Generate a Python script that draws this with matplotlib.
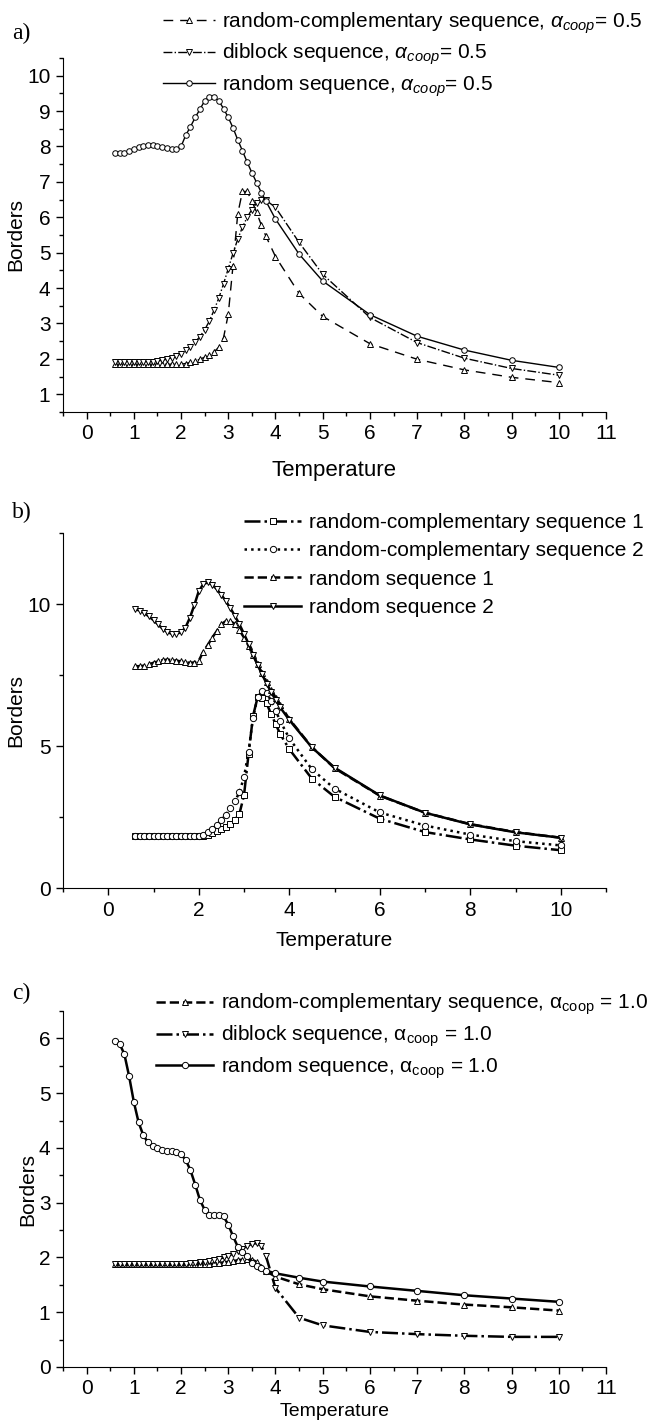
import matplotlib
matplotlib.use("Agg")
import matplotlib.pyplot as plt
from matplotlib.ticker import MultipleLocator

plt.rcParams['font.family'] = ['Liberation Sans', 'DejaVu Sans']
plt.rcParams['mathtext.fontset'] = 'custom'
plt.rcParams['mathtext.rm'] = 'Liberation Sans'
plt.rcParams['mathtext.it'] = 'Liberation Sans:italic'

# temperatures shared by all series
T = [0.6, 0.7, 0.8, 0.9, 1.0, 1.1, 1.2, 1.3, 1.4, 1.5, 1.6, 1.7, 1.8, 1.9, 2.0,
     2.1, 2.2, 2.3, 2.4, 2.5, 2.6, 2.7, 2.8, 2.9, 3.0, 3.1, 3.2, 3.3, 3.4, 3.5,
     3.6, 3.7, 3.8, 4.0, 4.5, 5, 6, 7, 8, 9, 10]

# panel a, alpha_coop = 0.5
a_rc = [1.85, 1.85, 1.85, 1.85, 1.85, 1.85, 1.85, 1.85, 1.85, 1.85, 1.85, 1.85, 1.85, 1.85, 1.85,
        1.87, 1.90, 1.94, 1.99, 2.05, 2.12, 2.20, 2.33, 2.60, 3.26, 4.63, 6.09, 6.73, 6.73, 6.46,
        6.14, 5.78, 5.46, 4.89, 3.85, 3.20, 2.43, 1.99, 1.69, 1.48, 1.33]
a_diblock = [1.92, 1.92, 1.92, 1.92, 1.92, 1.92, 1.92, 1.92, 1.92, 1.94, 1.96, 1.99, 2.03, 2.08, 2.15,
             2.24, 2.35, 2.48, 2.63, 2.82, 3.07, 3.38, 3.72, 4.12, 4.55, 4.98, 5.38, 5.72, 6.00, 6.22,
             6.40, 6.48, 6.48, 6.28, 5.29, 4.39, 3.17, 2.46, 2.02, 1.73, 1.54]
a_random = [7.81, 7.81, 7.83, 7.88, 7.93, 7.98, 8.02, 8.04, 8.03, 8.01, 7.98, 7.95, 7.93, 7.94, 8.00,
            8.32, 8.56, 8.82, 9.05, 9.29, 9.40, 9.40, 9.29, 9.07, 8.82, 8.53, 8.19, 7.88, 7.56, 7.26,
            6.98, 6.70, 6.45, 5.95, 4.96, 4.20, 3.25, 2.64, 2.25, 1.96, 1.76]

# panel b
b_rc1 = [1.82, 1.82, 1.82, 1.82, 1.82, 1.82, 1.82, 1.82, 1.82, 1.82, 1.82, 1.82, 1.82, 1.82, 1.82,
         1.84, 1.88, 1.93, 1.99, 2.06, 2.14, 2.25, 2.40, 2.62, 3.26, 4.71, 6.06, 6.71, 6.70, 6.50,
         6.12, 5.77, 5.42, 4.89, 3.85, 3.21, 2.44, 1.97, 1.71, 1.49, 1.33]
b_rc2 = [1.82, 1.82, 1.82, 1.82, 1.82, 1.82, 1.82, 1.82, 1.82, 1.82, 1.82, 1.82, 1.82, 1.82, 1.82,
         1.88, 1.96, 2.07, 2.22, 2.40, 2.58, 2.80, 3.05, 3.38, 3.90, 4.80, 6.00, 6.72, 6.93, 6.85,
         6.60, 6.25, 5.88, 5.27, 4.18, 3.50, 2.66, 2.20, 1.88, 1.65, 1.50]
b_r1 = [7.81, 7.81, 7.83, 7.88, 7.93, 7.98, 8.02, 8.04, 8.03, 8.01, 7.98, 7.95, 7.93, 7.94, 8.00,
        8.32, 8.56, 8.82, 9.05, 9.29, 9.40, 9.40, 9.29, 9.07, 8.82, 8.53, 8.19, 7.88, 7.56, 7.26,
        6.98, 6.70, 6.45, 5.95, 4.96, 4.22, 3.25, 2.65, 2.25, 1.97, 1.77]
b_r2 = [9.81, 9.77, 9.68, 9.56, 9.43, 9.28, 9.13, 9.02, 8.95, 8.95, 9.00, 9.15, 9.50, 9.95, 10.45,
        10.70, 10.76, 10.68, 10.52, 10.32, 10.10, 9.85, 9.58, 9.28, 8.95, 8.60, 8.22, 7.86, 7.52, 7.20,
        6.90, 6.62, 6.36, 5.92, 4.95, 4.24, 3.26, 2.65, 2.24, 1.96, 1.77]

# panel c, alpha_coop = 1.0
c_rc = [1.88, 1.88, 1.88, 1.88, 1.88, 1.88, 1.88, 1.88, 1.88, 1.88, 1.88, 1.88, 1.88, 1.88, 1.88,
        1.88, 1.88, 1.88, 1.88, 1.88, 1.88, 1.89, 1.90, 1.91, 1.92, 1.93, 1.95, 1.96, 1.97, 1.96,
        1.92, 1.83, 1.75, 1.65, 1.51, 1.42, 1.29, 1.21, 1.14, 1.09, 1.03]
c_diblock = [1.88, 1.88, 1.88, 1.88, 1.88, 1.88, 1.88, 1.88, 1.88, 1.88, 1.88, 1.88, 1.88, 1.88, 1.88,
             1.88, 1.89, 1.90, 1.91, 1.92, 1.94, 1.96, 1.98, 2.00, 2.03, 2.07, 2.11, 2.16, 2.21, 2.25,
             2.26, 2.21, 2.02, 1.44, 0.90, 0.76, 0.64, 0.60, 0.57, 0.55, 0.55]
c_random = [5.95, 5.90, 5.71, 5.31, 4.84, 4.47, 4.23, 4.10, 4.03, 3.99, 3.96, 3.95, 3.94, 3.92, 3.88,
            3.78, 3.59, 3.33, 3.05, 2.87, 2.78, 2.77, 2.78, 2.75, 2.60, 2.39, 2.20, 2.10, 2.02, 1.89,
            1.84, 1.80, 1.76, 1.71, 1.63, 1.56, 1.47, 1.39, 1.31, 1.25, 1.19]

W, H = 650, 1425
fig = plt.figure(figsize=(W / 100, H / 100), dpi=100)


def make_axes(top, bottom):
    ax = fig.add_axes([63 / W, 1 - bottom / H, 543 / W, (bottom - top) / H])
    ax.spines['top'].set_visible(False)
    ax.spines['right'].set_visible(False)
    ax.tick_params(which='both', direction='out', labelsize=15, width=1)
    ax.tick_params(which='major', length=5, pad=4)
    ax.tick_params(which='minor', length=3)
    return ax


def style(lw, ms):
    return dict(color='black', lw=lw, ms=ms, mfc='white', mec='black', mew=0.7)


def legend(ax, x, y, hl, sp):
    ax.legend(loc='upper left', bbox_to_anchor=(x / W, 1 - y / H), bbox_transform=fig.transFigure,
              frameon=False, fontsize=15, handlelength=hl, handletextpad=0.35, borderpad=0,
              borderaxespad=0, labelspacing=sp, numpoints=1)


# ---- a)
ax = make_axes(58, 412)
s = style(1.0, 4)
ax.plot(T, a_rc, ls=(0, (7, 5)), marker='^', label=r'random-complementary sequence, $\alpha_{coop}$= 0.5', **s)
ax.plot(T, a_diblock, ls='-.', marker='v', label=r'diblock sequence, $\alpha_{coop}$= 0.5', **s)
ax.plot(T, a_random, ls='-', marker='o', label=r'random sequence, $\alpha_{coop}$= 0.5', **s)
ax.set_xlim(-0.5, 11)
ax.set_ylim(0.5, 10.5)
ax.xaxis.set_major_locator(MultipleLocator(1))
ax.xaxis.set_minor_locator(MultipleLocator(0.5))
ax.yaxis.set_minor_locator(MultipleLocator(0.5))
ax.set_yticks(range(1, 11))
ax.set_xlabel('Temperature', fontsize=16, labelpad=12)
ax.set_ylabel('Borders', fontsize=15, labelpad=1)
legend(ax, 163, 10, 2.5, 0.3)
fig.text(12 / W, 1 - 33 / H, 'a)', family='Liberation Serif', fontsize=17, va='center')

# ---- b)
ax = make_axes(533, 888)
s = style(1.8, 4.5)
ax.plot(T, b_rc1, ls='-.', marker='s', label='random-complementary sequence 1', **s)
ax.plot(T, b_rc2, ls=':', marker='o', label='random-complementary sequence 2', **s)
ax.plot(T, b_r1, ls='--', marker='^', label='random sequence 1', **s)
ax.plot(T, b_r2, ls='-', marker='v', label='random sequence 2', **s)
ax.set_xlim(-1, 11)
ax.set_ylim(0, 12.5)
ax.xaxis.set_minor_locator(MultipleLocator(1))
ax.yaxis.set_minor_locator(MultipleLocator(2.5))
ax.set_xticks(range(0, 11, 2))
ax.set_yticks([0, 5, 10])
ax.set_xlabel('Temperature', fontsize=15, labelpad=8)
ax.set_ylabel('Borders', fontsize=15, labelpad=1)
legend(ax, 244, 513, 2.75, 0.45)
fig.text(12 / W, 1 - 512 / H, 'b)', family='Liberation Serif', fontsize=17, va='center')

# ---- c)
ax = make_axes(1011, 1367)
s = style(1.8, 4.5)
ax.plot(T, c_rc, ls='--', marker='^', label=r'random-complementary sequence, $\mathrm{\alpha}_{\mathrm{coop}}$ = 1.0', **s)
ax.plot(T, c_diblock, ls='-.', marker='v', label=r'diblock sequence, $\mathrm{\alpha}_{\mathrm{coop}}$ = 1.0', **s)
ax.plot(T, c_random, ls='-', marker='o', label=r'random sequence, $\mathrm{\alpha}_{\mathrm{coop}}$ = 1.0', **s)
ax.set_xlim(-0.5, 11)
ax.set_ylim(0, 6.5)
ax.xaxis.set_minor_locator(MultipleLocator(0.5))
ax.yaxis.set_minor_locator(MultipleLocator(0.5))
ax.set_xticks(range(0, 12))
ax.set_yticks(range(0, 7))
ax.set_xlabel('Temperature', fontsize=14, labelpad=3)
ax.set_ylabel('Borders', fontsize=15, labelpad=1)
legend(ax, 156, 992, 2.75, 0.3)
fig.text(12 / W, 1 - 993 / H, 'c)', family='Liberation Serif', fontsize=17, va='center')

fig.savefig('out.png', dpi=100)
